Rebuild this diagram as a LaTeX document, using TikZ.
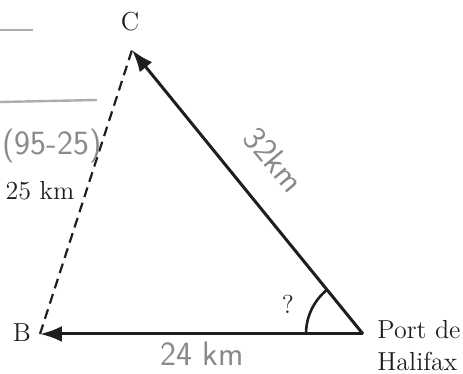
\documentclass[tikz,border=0pt]{standalone}
\usetikzlibrary{arrows.meta, positioning}
\definecolor{cInk}{HTML}{1E1E1E}
\definecolor{cPencil}{HTML}{8A8A8A}

\begin{document}
\begin{tikzpicture}[
    x=0.5pt, y=0.5pt,
    % ---------------------------------------------------------
    % STYLES
    % ---------------------------------------------------------
    leg/.style={
        draw=cInk,
        line width=1.5pt,
        -{Latex[length=11pt, width=8pt]}
    },
    hidden leg/.style={
        draw=cInk,
        line width=1.1pt,
        dash pattern=on 5pt off 3pt
    },
    vertex label/.style={
        font=\fontsize{13}{14}\selectfont,
        text=cInk,
        inner sep=1pt
    },
    pencil/.style={
        font=\sffamily\fontsize{17}{18}\selectfont,
        text=cPencil,
        inner sep=1pt
    },
    pencil line/.style={
        draw=cPencil!70,
        line width=1.2pt
    }
]
\useasboundingbox (0,0) rectangle (463,374);

% ---------------------------------------------------------
% 1. COORDINATES
% ---------------------------------------------------------
\coordinate (C) at (132, 324);
\coordinate (B) at (40, 40);
\coordinate (P) at (363, 40); % Port de Halifax

% ---------------------------------------------------------
% 2. LEGS OF THE TRIANGLE
% ---------------------------------------------------------
\draw[hidden leg] (B) -- (C);
\draw[leg] (P) -- (C);
\draw[leg] (P) -- (B);

% angle at the port
\draw[line width=1.3pt, cInk] ([shift={(180:57)}]P) arc (180:129:57);

% ---------------------------------------------------------
% 3. LABELS
% ---------------------------------------------------------
\node[vertex label] (lblC) at (130, 352) {C};
\node[vertex label] (lblB) at (22, 41) {B};
\node[vertex label, anchor=west, align=left] (lblPort) at (375, 28) {Port de\\[2pt]Halifax};
\node[vertex label] (lblBC) at (40, 183) {25 km};
\node[vertex label] (lblAngle) at (288, 70) {?};

% ---------------------------------------------------------
% 4. PENCIL NOTES
% ---------------------------------------------------------
\node[pencil, rotate=-50] (note32) at (274, 214) {32km};
\node[pencil] (note24) at (202, 20) {24 km};
\node[pencil] (note95) at (52, 228) {(95-25)};
\draw[pencil line] (0, 344) -- (33, 344);
\draw[pencil line] (0, 272) -- (97, 274);

\end{tikzpicture}
\end{document}
